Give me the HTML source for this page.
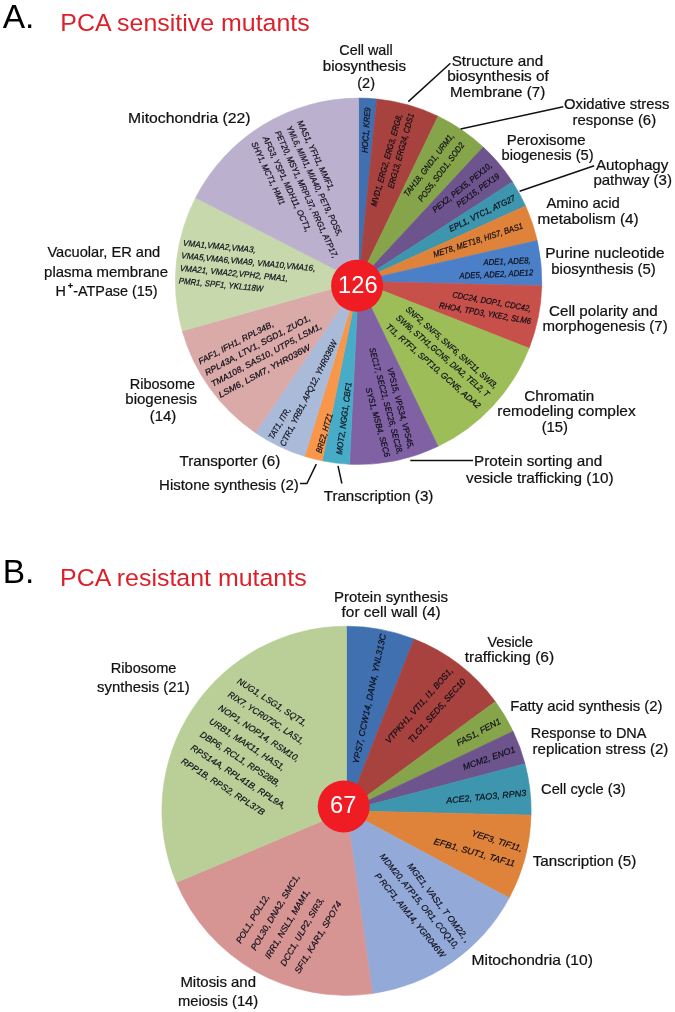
<!DOCTYPE html>
<html><head><meta charset="utf-8"><title>PCA mutants</title>
<style>
html,body{margin:0;padding:0;background:#fff;}
body{width:675px;height:1012px;overflow:hidden;font-family:"Liberation Sans",sans-serif;}
svg{display:block;}
svg text{font-family:"Liberation Sans",sans-serif;}
.g text{font-style:italic;fill:#0c0c16;stroke:#0c0c16;stroke-width:0.2;}
.gb text{stroke-width:0.18;}
.l text{fill:#111;stroke:#111;stroke-width:0.22;}
</style></head><body>
<svg width="675" height="1012" viewBox="0 0 675 1012">
<rect width="675" height="1012" fill="#ffffff"/>
<path d="M358.60,281.30 L358.60,98.10 A183.20,183.20 0 0 1 376.84,99.01 Z" fill="#4070B0" stroke="#4070B0" stroke-width="0.6"/>
<path d="M358.60,281.30 L376.84,99.01 A183.20,183.20 0 0 1 438.09,116.24 Z" fill="#A8423F" stroke="#A8423F" stroke-width="0.6"/>
<path d="M358.60,281.30 L438.09,116.24 A183.20,183.20 0 0 1 483.21,147.00 Z" fill="#86A44A" stroke="#86A44A" stroke-width="0.6"/>
<path d="M358.60,281.30 L483.21,147.00 A183.20,183.20 0 0 1 512.49,181.91 Z" fill="#6E548D" stroke="#6E548D" stroke-width="0.6"/>
<path d="M358.60,281.30 L512.49,181.91 A183.20,183.20 0 0 1 525.59,205.95 Z" fill="#3D96AE" stroke="#3D96AE" stroke-width="0.6"/>
<path d="M358.60,281.30 L525.59,205.95 A183.20,183.20 0 0 1 537.21,240.53 Z" fill="#E0833A" stroke="#E0833A" stroke-width="0.6"/>
<path d="M358.60,281.30 L537.21,240.53 A183.20,183.20 0 0 1 541.74,285.87 Z" fill="#4B80C9" stroke="#4B80C9" stroke-width="0.6"/>
<path d="M358.60,281.30 L541.74,285.87 A183.20,183.20 0 0 1 529.14,348.23 Z" fill="#C8504B" stroke="#C8504B" stroke-width="0.6"/>
<path d="M358.60,281.30 L529.14,348.23 A183.20,183.20 0 0 1 438.09,446.36 Z" fill="#9CBD58" stroke="#9CBD58" stroke-width="0.6"/>
<path d="M358.60,281.30 L438.09,446.36 A183.20,183.20 0 0 1 349.47,464.27 Z" fill="#8062A4" stroke="#8062A4" stroke-width="0.6"/>
<path d="M358.60,281.30 L349.47,464.27 A183.20,183.20 0 0 1 322.30,460.87 Z" fill="#48ACC8" stroke="#48ACC8" stroke-width="0.6"/>
<path d="M358.60,281.30 L322.30,460.87 A183.20,183.20 0 0 1 304.60,456.36 Z" fill="#F8964A" stroke="#F8964A" stroke-width="0.6"/>
<path d="M358.60,281.30 L304.60,456.36 A183.20,183.20 0 0 1 255.40,432.67 Z" fill="#AABBDA" stroke="#AABBDA" stroke-width="0.6"/>
<path d="M358.60,281.30 L255.40,432.67 A183.20,183.20 0 0 1 182.25,330.92 Z" fill="#DAAAA9" stroke="#DAAAA9" stroke-width="0.6"/>
<path d="M358.60,281.30 L182.25,330.92 A183.20,183.20 0 0 1 195.58,197.72 Z" fill="#C7D8AC" stroke="#C7D8AC" stroke-width="0.6"/>
<path d="M358.60,281.30 L195.58,197.72 A183.20,183.20 0 0 1 358.60,98.10 Z" fill="#BBB0CD" stroke="#BBB0CD" stroke-width="0.6"/>
<path d="M346.50,810.80 L346.50,626.20 A184.60,184.60 0 0 1 414.13,639.04 Z" fill="#4070B0" stroke="#4070B0" stroke-width="0.6"/>
<path d="M346.50,810.80 L414.13,639.04 A184.60,184.60 0 0 1 495.33,701.60 Z" fill="#A8423F" stroke="#A8423F" stroke-width="0.6"/>
<path d="M346.50,810.80 L495.33,701.60 A184.60,184.60 0 0 1 513.09,731.26 Z" fill="#86A44A" stroke="#86A44A" stroke-width="0.6"/>
<path d="M346.50,810.80 L513.09,731.26 A184.60,184.60 0 0 1 525.00,763.72 Z" fill="#6E548D" stroke="#6E548D" stroke-width="0.6"/>
<path d="M346.50,810.80 L525.00,763.72 A184.60,184.60 0 0 1 531.05,815.13 Z" fill="#3D96AE" stroke="#3D96AE" stroke-width="0.6"/>
<path d="M346.50,810.80 L531.05,815.13 A184.60,184.60 0 0 1 509.17,898.06 Z" fill="#E0833A" stroke="#E0833A" stroke-width="0.6"/>
<path d="M346.50,810.80 L509.17,898.06 A184.60,184.60 0 0 1 372.38,993.58 Z" fill="#93A9D8" stroke="#93A9D8" stroke-width="0.6"/>
<path d="M346.50,810.80 L372.38,993.58 A184.60,184.60 0 0 1 176.37,882.44 Z" fill="#D69493" stroke="#D69493" stroke-width="0.6"/>
<path d="M346.50,810.80 L176.37,882.44 A184.60,184.60 0 0 1 346.50,626.20 Z" fill="#B9CF97" stroke="#B9CF97" stroke-width="0.6"/>
<g stroke="#111" stroke-width="1.5" fill="none" stroke-linecap="butt">
<path d="M408.3,101.6 L450.4,63.2"/>
<path d="M460.6,128.9 L563.3,106.8"/>
<path d="M519.6,191.2 L594.2,165.8"/>
<path d="M410.3,460.4 L473,460.4"/>
<path d="M338,465.8 L341.9,483.5"/>
<path d="M316.3,464.1 L306.9,483.6 L300,483.6"/>
</g>
<circle cx="357.1" cy="285.8" r="26" fill="#EF1C24"/>
<text x="357.8" y="292.6" font-size="23.7" fill="#fff" text-anchor="middle">126</text>
<circle cx="343.7" cy="806.4" r="26" fill="#EF1C24"/>
<text x="343.2" y="812.8" font-size="23.7" fill="#fff" text-anchor="middle">67</text>
<text x="2.7" y="28" font-size="33.5" fill="#000">A.</text>
<text x="60.3" y="30.9" font-size="24.5" fill="#DC1F29" textLength="249.4" lengthAdjust="spacingAndGlyphs">PCA sensitive mutants</text>
<text x="2.7" y="582.9" font-size="33.5" fill="#000">B.</text>
<text x="60" y="585.9" font-size="24.5" fill="#DC1F29" textLength="246.6" lengthAdjust="spacingAndGlyphs">PCA resistant mutants</text>
<g class="l">
<text x="128.1" y="122.7" font-size="14.8" textLength="122.5" lengthAdjust="spacingAndGlyphs">Mitochondria (22)</text>
<text x="47.4" y="256.5" font-size="14.8" textLength="112.8" lengthAdjust="spacingAndGlyphs">Vacuolar, ER and</text>
<text x="44.1" y="276.8" font-size="14.8" textLength="123.9" lengthAdjust="spacingAndGlyphs">plasma membrane</text>
<text x="55.5" y="296.3" font-size="14.8" textLength="102.1" lengthAdjust="spacingAndGlyphs">H<tspan dy="-7.2" dx="2" font-size="9.5" font-weight="bold">+</tspan><tspan dy="7.2">-ATPase (15)</tspan></text>
<text x="339.3" y="54.5" font-size="14.8" textLength="53.4" lengthAdjust="spacingAndGlyphs">Cell wall</text>
<text x="322.8" y="70.7" font-size="14.8" textLength="83.2" lengthAdjust="spacingAndGlyphs">biosynthesis</text>
<text x="357.3" y="87.7" font-size="14.8" textLength="17.7" lengthAdjust="spacingAndGlyphs">(2)</text>
<text x="451.7" y="65.7" font-size="14.8" textLength="91.5" lengthAdjust="spacingAndGlyphs">Structure and</text>
<text x="447.2" y="81.0" font-size="14.8" textLength="101.7" lengthAdjust="spacingAndGlyphs">biosynthesis of</text>
<text x="450.1" y="96.6" font-size="14.8" textLength="95.1" lengthAdjust="spacingAndGlyphs">Membrane (7)</text>
<text x="564.0" y="109.4" font-size="14.8" textLength="105.3" lengthAdjust="spacingAndGlyphs">Oxidative stress</text>
<text x="572.5" y="125.1" font-size="14.8" textLength="83.6" lengthAdjust="spacingAndGlyphs">response (6)</text>
<text x="506.8" y="145.0" font-size="14.8" textLength="78.8" lengthAdjust="spacingAndGlyphs">Peroxisome</text>
<text x="501.5" y="160.3" font-size="14.8" textLength="92.1" lengthAdjust="spacingAndGlyphs">biogenesis (5)</text>
<text x="595.9" y="169.5" font-size="14.8" textLength="72.5" lengthAdjust="spacingAndGlyphs">Autophagy</text>
<text x="593.4" y="184.7" font-size="14.8" textLength="78.6" lengthAdjust="spacingAndGlyphs">pathway (3)</text>
<text x="546.4" y="207.9" font-size="14.8" textLength="73.3" lengthAdjust="spacingAndGlyphs">Amino acid</text>
<text x="537.6" y="224.0" font-size="14.8" textLength="101.1" lengthAdjust="spacingAndGlyphs">metabolism (4)</text>
<text x="545.3" y="257.6" font-size="14.8" textLength="119.3" lengthAdjust="spacingAndGlyphs">Purine nucleotide</text>
<text x="551.3" y="273.6" font-size="14.8" textLength="104.5" lengthAdjust="spacingAndGlyphs">biosynthesis (5)</text>
<text x="549.1" y="315.6" font-size="14.8" textLength="108.5" lengthAdjust="spacingAndGlyphs">Cell polarity and</text>
<text x="542.5" y="330.8" font-size="14.8" textLength="125.2" lengthAdjust="spacingAndGlyphs">morphogenesis (7)</text>
<text x="524.3" y="400.5" font-size="14.8" textLength="70.0" lengthAdjust="spacingAndGlyphs">Chromatin</text>
<text x="497.3" y="415.7" font-size="14.8" textLength="138.4" lengthAdjust="spacingAndGlyphs">remodeling complex</text>
<text x="541.7" y="431.8" font-size="14.8" textLength="26.3" lengthAdjust="spacingAndGlyphs">(15)</text>
<text x="474.0" y="466.4" font-size="14.8" textLength="128.2" lengthAdjust="spacingAndGlyphs">Protein sorting and</text>
<text x="466.0" y="482.5" font-size="14.8" textLength="147.5" lengthAdjust="spacingAndGlyphs">vesicle trafficking (10)</text>
<text x="129.8" y="388.9" font-size="14.8" textLength="65.3" lengthAdjust="spacingAndGlyphs">Ribosome</text>
<text x="125.3" y="403.9" font-size="14.8" textLength="71.8" lengthAdjust="spacingAndGlyphs">biogenesis</text>
<text x="149.8" y="420.9" font-size="14.8" textLength="26.5" lengthAdjust="spacingAndGlyphs">(14)</text>
<text x="179.6" y="466.4" font-size="14.8" textLength="100.6" lengthAdjust="spacingAndGlyphs">Transporter (6)</text>
<text x="159.1" y="490.4" font-size="14.8" textLength="139.7" lengthAdjust="spacingAndGlyphs">Histone synthesis (2)</text>
<text x="323.7" y="501.2" font-size="14.8" textLength="109.7" lengthAdjust="spacingAndGlyphs">Transcription (3)</text>
<text x="110.8" y="673.3" font-size="14.8" textLength="65.6" lengthAdjust="spacingAndGlyphs">Ribosome</text>
<text x="97.1" y="691.9" font-size="14.8" textLength="92.6" lengthAdjust="spacingAndGlyphs">synthesis (21)</text>
<text x="334.0" y="601.7" font-size="14.8" textLength="114.1" lengthAdjust="spacingAndGlyphs">Protein synthesis</text>
<text x="341.6" y="617.0" font-size="14.8" textLength="99.1" lengthAdjust="spacingAndGlyphs">for cell wall (4)</text>
<text x="487.4" y="646.9" font-size="14.8" textLength="45.6" lengthAdjust="spacingAndGlyphs">Vesicle</text>
<text x="464.7" y="661.9" font-size="14.8" textLength="89.5" lengthAdjust="spacingAndGlyphs">trafficking (6)</text>
<text x="510.2" y="711.4" font-size="14.8" textLength="152.3" lengthAdjust="spacingAndGlyphs">Fatty acid synthesis (2)</text>
<text x="530.8" y="737.9" font-size="14.8" textLength="115.6" lengthAdjust="spacingAndGlyphs">Response to DNA</text>
<text x="532.6" y="753.6" font-size="14.8" textLength="135.8" lengthAdjust="spacingAndGlyphs">replication stress (2)</text>
<text x="541.1" y="794.3" font-size="14.8" textLength="84.6" lengthAdjust="spacingAndGlyphs">Cell cycle (3)</text>
<text x="532.8" y="865.5" font-size="14.8" textLength="103.5" lengthAdjust="spacingAndGlyphs">Tanscription (5)</text>
<text x="471.6" y="964.9" font-size="14.8" textLength="121.3" lengthAdjust="spacingAndGlyphs">Mitochondria (10)</text>
<text x="180.4" y="987.2" font-size="14.8" textLength="75.6" lengthAdjust="spacingAndGlyphs">Mitosis and</text>
<text x="178.0" y="1005.6" font-size="14.8" textLength="80.2" lengthAdjust="spacingAndGlyphs">meiosis (14)</text>
</g>
<g class="g">
<text transform="translate(299.7,120.8) rotate(64.8)" x="0" y="3.04" font-size="8.5" textLength="76.5" lengthAdjust="spacingAndGlyphs">MAS1, YFH1, MMF1,</text>
<text transform="translate(289.0,126.2) rotate(64.8)" x="0" y="3.04" font-size="8.5" textLength="120.5" lengthAdjust="spacingAndGlyphs">YML6, MIM1, MIA40, PET9, POS5,</text>
<text transform="translate(277.5,131.1) rotate(65.2)" x="0" y="3.04" font-size="8.5" textLength="139.3" lengthAdjust="spacingAndGlyphs">PET20, MSY1, MRPL37, RRG1, ATP17,</text>
<text transform="translate(265.4,136.8) rotate(65.2)" x="0" y="3.04" font-size="8.5" textLength="104.0" lengthAdjust="spacingAndGlyphs">AFG3, YSP1, MDH11, OCT1,</text>
<text transform="translate(254.0,142.2) rotate(65.0)" x="0" y="3.04" font-size="8.5" textLength="68.5" lengthAdjust="spacingAndGlyphs">SHY1, MCT1, HMI1</text>
<text transform="translate(183.1,242.7) rotate(5.5)" x="0" y="3.04" font-size="8.5" textLength="72.9" lengthAdjust="spacingAndGlyphs">VMA1,VMA2,VMA3,</text>
<text transform="translate(181.3,255.3) rotate(5.5)" x="0" y="3.04" font-size="8.5" textLength="134.8" lengthAdjust="spacingAndGlyphs">VMA5,VMA6,VMA9, VMA10,VMA16,</text>
<text transform="translate(180.1,267.9) rotate(5.5)" x="0" y="3.04" font-size="8.5" textLength="108.3" lengthAdjust="spacingAndGlyphs">VMA21, VMA22,VPH2, PMA1,</text>
<text transform="translate(178.8,280.5) rotate(5.5)" x="0" y="3.04" font-size="8.5" textLength="84.8" lengthAdjust="spacingAndGlyphs">PMR1, SPF1, YKL118W</text>
<text transform="translate(198.9,361.7) rotate(-27.5)" x="0" y="3.04" font-size="8.5" textLength="83.4" lengthAdjust="spacingAndGlyphs">FAF1, IFH1, RPL34B,</text>
<text transform="translate(205.2,373.0) rotate(-28.1)" x="0" y="3.04" font-size="8.5" textLength="118.5" lengthAdjust="spacingAndGlyphs">RPL43A, LTV1, SGD1, ZUO1,</text>
<text transform="translate(211.5,384.4) rotate(-28.4)" x="0" y="3.04" font-size="8.5" textLength="124.5" lengthAdjust="spacingAndGlyphs">TMA108, SAS10, UTP5, LSM1,</text>
<text transform="translate(219.0,395.2) rotate(-28.2)" x="0" y="3.04" font-size="8.5" textLength="102.9" lengthAdjust="spacingAndGlyphs">LSM6, LSM7, YHR036W</text>
<text transform="translate(270.4,438.4) rotate(-59.5)" x="0" y="3.04" font-size="8.5" textLength="35.0" lengthAdjust="spacingAndGlyphs">TAT1, ITR,</text>
<text transform="translate(282.0,445.6) rotate(-63.4)" x="0" y="3.04" font-size="8.5" textLength="117.3" lengthAdjust="spacingAndGlyphs">CTR1, YRB1, APQ12, YHR036W</text>
<text transform="translate(318.4,452.7) rotate(-73.5)" x="0" y="3.04" font-size="8.5" textLength="40.8" lengthAdjust="spacingAndGlyphs">BRE2, HTZ1</text>
<text transform="translate(338.9,454.4) rotate(-82.3)" x="0" y="3.04" font-size="8.5" textLength="72.7" lengthAdjust="spacingAndGlyphs">MOT2, NGG1, CBF1</text>
<text transform="translate(390.0,367.8) rotate(75.1)" x="0" y="3.04" font-size="8.5" textLength="83.5" lengthAdjust="spacingAndGlyphs">VPS15, VPS34, VPS45,</text>
<text transform="translate(372.2,347.8) rotate(75.1)" x="0" y="3.04" font-size="8.5" textLength="109.6" lengthAdjust="spacingAndGlyphs">SEC17, SEC21, SEC26, SEC28,</text>
<text transform="translate(368.5,387.8) rotate(74.4)" x="0" y="3.04" font-size="8.5" textLength="71.5" lengthAdjust="spacingAndGlyphs">SYS1, MSB4, SEC6</text>
<text transform="translate(407.3,308.0) rotate(41.4)" x="0" y="3.04" font-size="8.5" textLength="119.0" lengthAdjust="spacingAndGlyphs">SNF2, SNF5, SNF6, SNF11, SWI3,</text>
<text transform="translate(397.5,316.5) rotate(40.8)" x="0" y="3.04" font-size="8.5" textLength="120.1" lengthAdjust="spacingAndGlyphs">SWI6, STH1,GCN5, DIA2, TEL2, T</text>
<text transform="translate(387.3,325.3) rotate(41.4)" x="0" y="3.04" font-size="8.5" textLength="122.8" lengthAdjust="spacingAndGlyphs">TI1, RTF1, SPT10, GCN5, ADA2</text>
<text transform="translate(452.5,294.2) rotate(10.4)" x="0" y="3.04" font-size="8.5" textLength="79.9" lengthAdjust="spacingAndGlyphs">CDC24, DOP1, CDC42,</text>
<text transform="translate(439.2,305.1) rotate(9.9)" x="0" y="3.04" font-size="8.5" textLength="93.3" lengthAdjust="spacingAndGlyphs">RHO4, TPD3, YKE2, SLM6</text>
<text transform="translate(483.3,262.2) rotate(-2.4)" x="0" y="3.04" font-size="8.5" textLength="47.4" lengthAdjust="spacingAndGlyphs">ADE1, ADE8,</text>
<text transform="translate(459.3,275.8) rotate(-2.7)" x="0" y="3.04" font-size="8.5" textLength="73.9" lengthAdjust="spacingAndGlyphs">ADE5, ADE2, ADE12</text>
<text transform="translate(433.3,254.7) rotate(-18.2)" x="0" y="3.04" font-size="8.5" textLength="94.0" lengthAdjust="spacingAndGlyphs">MET8, MET18, HIS7, BAS1</text>
<text transform="translate(449.3,229.3) rotate(-26.1)" x="0" y="3.04" font-size="8.5" textLength="72.7" lengthAdjust="spacingAndGlyphs">EPL1, VTC1, ATG27</text>
<text transform="translate(433.3,210.7) rotate(-39.1)" x="0" y="3.04" font-size="8.5" textLength="73.9" lengthAdjust="spacingAndGlyphs">PEX2, PEX5, PEX10,</text>
<text transform="translate(457.3,205.3) rotate(-36.5)" x="0" y="3.04" font-size="8.5" textLength="51.0" lengthAdjust="spacingAndGlyphs">PEX15, PEX19</text>
<text transform="translate(405.3,195.5) rotate(-52.7)" x="0" y="3.04" font-size="8.5" textLength="77.1" lengthAdjust="spacingAndGlyphs">TAH18, GND1, URM1,</text>
<text transform="translate(419.6,200.5) rotate(-53.3)" x="0" y="3.04" font-size="8.5" textLength="71.5" lengthAdjust="spacingAndGlyphs">POS5, SOD1, SOD2</text>
<text transform="translate(373.3,206.1) rotate(-74.2)" x="0" y="3.04" font-size="8.5" textLength="95.4" lengthAdjust="spacingAndGlyphs">MVD1, ERG2, ERG3, ERG8,</text>
<text transform="translate(390.4,188.3) rotate(-74.5)" x="0" y="3.04" font-size="8.5" textLength="77.6" lengthAdjust="spacingAndGlyphs">ERG13, ERG24, CDS1</text>
<text transform="translate(364.4,152.8) rotate(-86.2)" x="0" y="3.04" font-size="8.5" textLength="45.3" lengthAdjust="spacingAndGlyphs">HOC1, KRE9</text>
</g><g class="g gb">
<text transform="translate(355.4,763.7) rotate(-78.0)" x="0" y="3.15" font-size="8.8" textLength="132.7" lengthAdjust="spacingAndGlyphs">YPS7, CCW14, DAN4, YNL313C</text>
<text transform="translate(386.8,742.0) rotate(-48.7)" x="0" y="3.15" font-size="8.8" textLength="97.4" lengthAdjust="spacingAndGlyphs">VTPKH1, VTI1, I1, BOS1,</text>
<text transform="translate(409.6,741.4) rotate(-48.7)" x="0" y="3.15" font-size="8.8" textLength="82.1" lengthAdjust="spacingAndGlyphs">TLG1, SED5, SEC10</text>
<text transform="translate(457.0,743.5) rotate(-28.3)" x="0" y="3.15" font-size="8.8" textLength="48.8" lengthAdjust="spacingAndGlyphs">FAS1, FEN1</text>
<text transform="translate(463.0,767.2) rotate(-19.5)" x="0" y="3.15" font-size="8.8" textLength="55.0" lengthAdjust="spacingAndGlyphs">MCM2, ENO1</text>
<text transform="translate(446.1,800.4) rotate(-5.5)" x="0" y="3.15" font-size="8.8" textLength="80.4" lengthAdjust="spacingAndGlyphs">ACE2, TAO3, RPN3</text>
<text transform="translate(471.9,832.6) rotate(17.9)" x="0" y="3.15" font-size="8.8" textLength="52.9" lengthAdjust="spacingAndGlyphs">YEF3, TIF11,</text>
<text transform="translate(434.2,840.9) rotate(15.8)" x="0" y="3.15" font-size="8.8" textLength="83.8" lengthAdjust="spacingAndGlyphs">EFB1, SUT1, TAF11</text>
<text transform="translate(409.5,864.2) rotate(52.6)" x="0" y="3.15" font-size="8.8" textLength="97.0" lengthAdjust="spacingAndGlyphs">MGE1, VAS1, T OM22, ,</text>
<text transform="translate(381.8,854.6) rotate(50.9)" x="0" y="3.15" font-size="8.8" textLength="119.5" lengthAdjust="spacingAndGlyphs">MDM20, ATP15, OR1, COQ10,</text>
<text transform="translate(376.8,873.9) rotate(50.9)" x="0" y="3.15" font-size="8.8" textLength="106.2" lengthAdjust="spacingAndGlyphs">P RCF1, AIM14, YGR046W</text>
<text transform="translate(238.0,942.4) rotate(-58.6)" x="0" y="3.15" font-size="8.8" textLength="55.5" lengthAdjust="spacingAndGlyphs">POL1, POL12,</text>
<text transform="translate(252.7,949.5) rotate(-59.1)" x="0" y="3.15" font-size="8.8" textLength="86.7" lengthAdjust="spacingAndGlyphs">POL30, DNA2, SMC1,</text>
<text transform="translate(266.9,958.0) rotate(-59.2)" x="0" y="3.15" font-size="8.8" textLength="79.5" lengthAdjust="spacingAndGlyphs">IRR1, NSL1, MAM1,</text>
<text transform="translate(282.3,965.1) rotate(-59.8)" x="0" y="3.15" font-size="8.8" textLength="77.6" lengthAdjust="spacingAndGlyphs">DCC1, ULP2, SIR3,</text>
<text transform="translate(296.5,972.7) rotate(-58.9)" x="0" y="3.15" font-size="8.8" textLength="82.5" lengthAdjust="spacingAndGlyphs">SFI1, KAR1, SPO74</text>
<text transform="translate(238.3,680.0) rotate(32.9)" x="0" y="3.15" font-size="8.8" textLength="81.0" lengthAdjust="spacingAndGlyphs">NUG1, LSG1, SQT1,</text>
<text transform="translate(229.0,693.4) rotate(33.0)" x="0" y="3.15" font-size="8.8" textLength="89.0" lengthAdjust="spacingAndGlyphs">RIX7, YCR072C, LAS1,</text>
<text transform="translate(219.6,706.7) rotate(33.7)" x="0" y="3.15" font-size="8.8" textLength="95.2" lengthAdjust="spacingAndGlyphs">NOP1, NOP14, RSM10,</text>
<text transform="translate(210.3,720.0) rotate(33.2)" x="0" y="3.15" font-size="8.8" textLength="88.6" lengthAdjust="spacingAndGlyphs">URB1, MAK11, HAS1,</text>
<text transform="translate(201.0,733.4) rotate(32.8)" x="0" y="3.15" font-size="8.8" textLength="93.6" lengthAdjust="spacingAndGlyphs">DBP6, RCL1, RPS28B,</text>
<text transform="translate(191.6,746.7) rotate(32.6)" x="0" y="3.15" font-size="8.8" textLength="111.4" lengthAdjust="spacingAndGlyphs">RPS14A, RPL41B, RPL9A,</text>
<text transform="translate(182.3,760.0) rotate(32.8)" x="0" y="3.15" font-size="8.8" textLength="97.4" lengthAdjust="spacingAndGlyphs">RPP1B, RPS2, RPL37B</text>
</g>
</svg>
</body></html>
